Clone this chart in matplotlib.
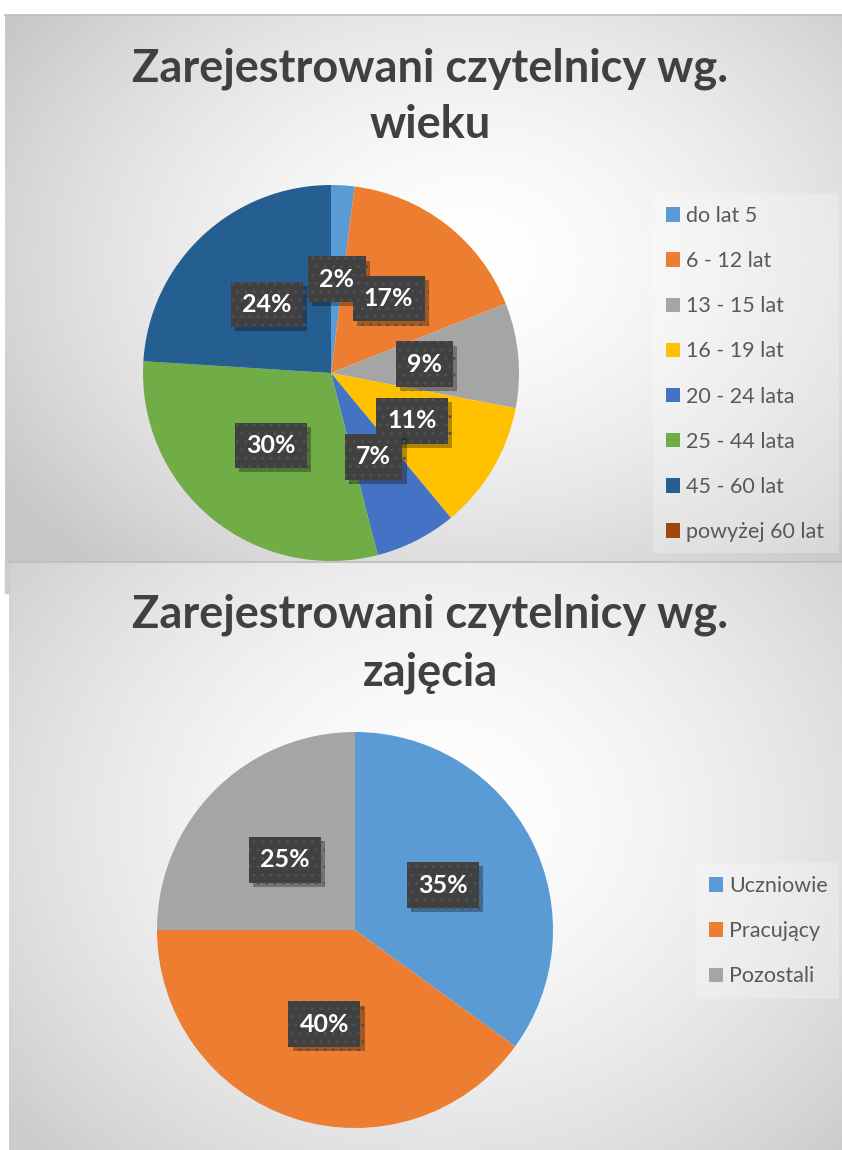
import numpy as np
import matplotlib
matplotlib.use('Agg')
import matplotlib.pyplot as plt
import matplotlib.patheffects as pe
from matplotlib.patches import Rectangle

# ---------------- data ----------------
age_labels = ['do lat 5', '6 - 12 lat', '13 - 15 lat', '16 - 19 lat',
              '20 - 24 lata', '25 - 44 lata', '45 - 60 lat', 'powyżej 60 lat']
age_values = [2, 17, 9, 11, 7, 30, 24, 0]
age_colors = ['#5B9BD5', '#ED7D31', '#A5A5A5', '#FFC000',
              '#4472C4', '#70AD47', '#255E91', '#9E480E']

occ_labels = ['Uczniowie', 'Pracujący', 'Pozostali']
occ_values = [35, 40, 25]
occ_colors = ['#5B9BD5', '#ED7D31', '#A5A5A5']

title_top = ['Zarejestrowani czytelnicy wg.', 'wieku']
title_bottom = ['Zarejestrowani czytelnicy wg.', 'zajęcia']

# ---------------- figure ----------------
W, H = 842, 1150
DPI = 100
fig = plt.figure(figsize=(W / DPI, H / DPI), dpi=DPI)
fig.patch.set_facecolor('white')
FONT = ['Lato', 'DejaVu Sans']

bg = fig.add_axes([0, 0, 1, 1], zorder=0)
bg.set_xlim(0, W)
bg.set_ylim(H, 0)
bg.axis('off')


def gradient(x0, x1, y0, y1, cx, cy, ax_, ay_, dark=0.80):
    xs = np.linspace(x0, x1, 300)
    ys = np.linspace(y0, y1, 300)
    X, Y = np.meshgrid(xs, ys)
    d = np.sqrt(((X - cx) / ax_) ** 2 + ((Y - cy) / ay_) ** 2)
    d = np.clip(d, 0, 1)
    v = 1 - (1 - dark) * d ** 1.6
    img = np.dstack([v, v, v])
    bg.imshow(img, extent=[x0, x1, y1, y0], aspect='auto',
              interpolation='bilinear', zorder=0)


# top panel
gradient(5, W, 15, 562, 470, 260, 560, 420, dark=0.78)
bg.add_patch(Rectangle((5, 562), 4, 31, color='#cccccc', zorder=1))
bg.plot([5, W], [15, 15], color='#bdbdbd', lw=1.2, zorder=2)
# bottom panel
gradient(9, W, 562, H, 440, 820, 560, 480, dark=0.80)
bg.plot([9, W], [562, 562], color='#bdbdbd', lw=1.2, zorder=2)


def fig_frac(px, py):
    return px / W, 1 - py / H


def add_title(lines, baselines, cx=430):
    for line, yb in zip(lines, baselines):
        fx, fy = fig_frac(cx, yb)
        fig.text(fx, fy, line, ha='center', va='baseline', fontsize=32.5,
                 fontweight='bold', color='#404040', family=FONT)


add_title(title_top, [82, 138])
add_title(title_bottom, [628, 686])


def add_pie(values, colors, labels, cx, cy, R, leg_x, leg_y, leg_w, leg_h,
            spacing):
    l, b = fig_frac(cx - R, cy + R)
    ax = fig.add_axes([l, b, 2 * R / W, 2 * R / H], zorder=2)
    ax.set_aspect('equal')
    wedges, _, autotexts = ax.pie(
        values, colors=colors, startangle=90, counterclock=False,
        autopct=lambda p: f'{p:.0f}%' if p > 0.5 else '',
        pctdistance=0.5, wedgeprops=dict(linewidth=0),
        textprops=dict(color='white', fontweight='bold', fontsize=18,
                       family=FONT))
    ax.set_xlim(-1, 1)
    ax.set_ylim(-1, 1)
    for t in autotexts:
        if not t.get_text():
            continue
        t.set_zorder(4)
        t.set_bbox(dict(boxstyle='square,pad=0.45', facecolor='#404040',
                        edgecolor='#505050', linewidth=0, hatch='..'))
        t.get_bbox_patch().set_path_effects(
            [pe.SimplePatchShadow(offset=(3, -3), shadow_rgbFace='black',
                                  alpha=0.3), pe.Normal()])
    ax.axis('off')

    # legend
    fx0, fy0 = fig_frac(leg_x, leg_y)
    fx1, fy1 = fig_frac(leg_x + leg_w, leg_y + leg_h)
    lax = fig.add_axes([fx0, fy1, fx1 - fx0, fy0 - fy1], zorder=2)
    lax.set_xlim(0, leg_w)
    lax.set_ylim(leg_h, 0)
    lax.axis('off')
    lax.add_patch(Rectangle((0, 0), leg_w, leg_h, facecolor='white',
                            alpha=0.25, edgecolor='none'))
    leg = lax.legend(wedges, labels, loc='upper left',
                     bbox_to_anchor=(0, 1), frameon=False,
                     prop=dict(family=FONT, size=15.5),
                     handlelength=0.65, handleheight=0.65,
                     handletextpad=0.3, labelspacing=spacing,
                     borderaxespad=0.0, borderpad=0.6)
    for txt in leg.get_texts():
        txt.set_color('#595959')
    return ax


add_pie(age_values, age_colors, age_labels, 331, 373, 188,
        653, 193, 186, 360, 1.17)
add_pie(occ_values, occ_colors, occ_labels, 355, 930, 198,
        696, 863, 143, 136, 1.17)

fig.savefig('out.png', dpi=DPI, facecolor='white')
